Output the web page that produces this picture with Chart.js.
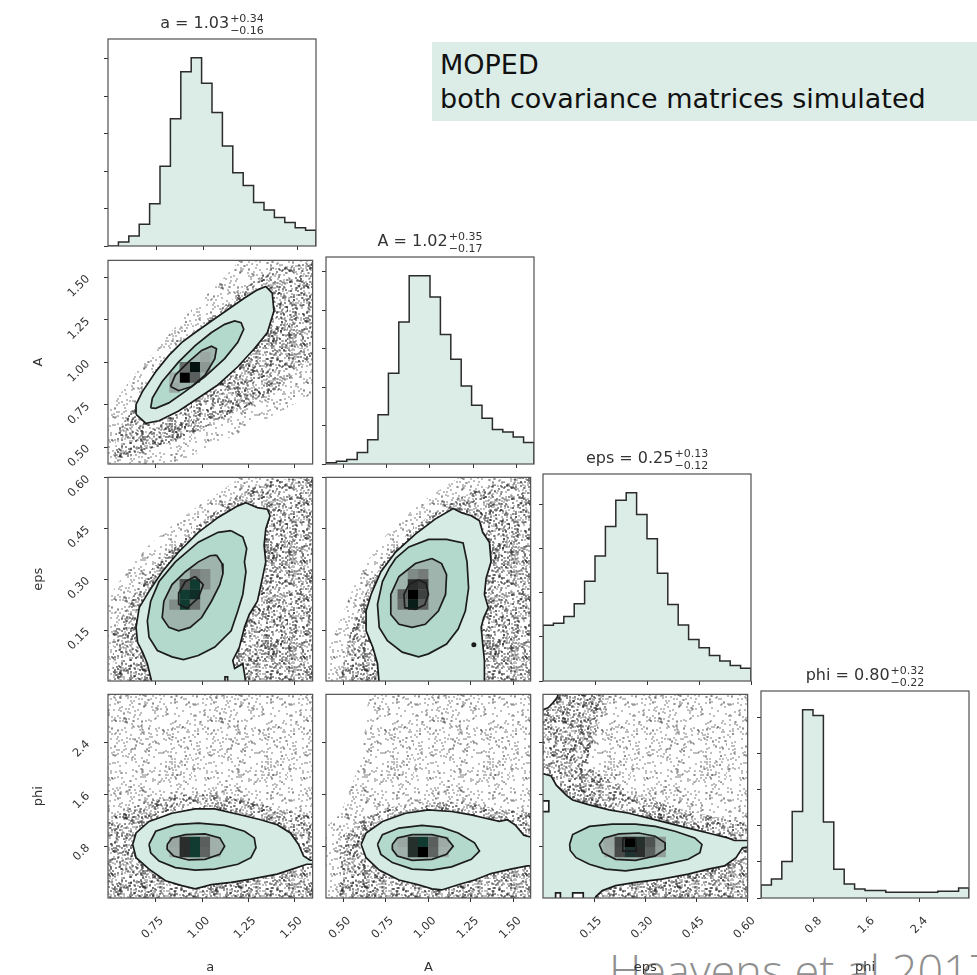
<!DOCTYPE html>
<html>
<head>
<meta charset="utf-8">
<script src="https://cdn.jsdelivr.net/npm/chart.js@4.4.1/dist/chart.umd.min.js"></script>
<style>
  html, body { margin: 0; background: #fff; }
  #fig { position: relative; width: 977px; height: 975px; overflow: hidden; }
  #fig canvas { position: absolute; }
  #credit {
    position: absolute; left: 609px; top: 947px; white-space: nowrap;
    font: 300 45px/45px "Open Sans", sans-serif; color: #8f8f8f;
  }
  #note {
    position: absolute; left: 432px; top: 42px; width: 545px; height: 79px;
    box-sizing: border-box; padding: 6px 0 0 8px; background: #dcede8;
    font: 27px/34px "DejaVu Sans", sans-serif; color: #111; white-space: nowrap;
  }
</style>
</head>
<body>
<div id="fig">
  <div id="credit">Heavens et al 2017</div>
  <div id="note">MOPED<br>both covariance matrices simulated</div>
</div>
<script>
// parameters, quoted medians and 68% errors
const params = ['a', 'A', 'eps', 'phi'];
const medians = ['1.03', '1.02', '0.25', '0.80'];
const errUp = ['0.34', '0.35', '0.13', '0.32'];
const errDown = ['0.16', '0.17', '0.12', '0.22'];
const ranges = [[0.4926, 1.597], [0.40, 1.60], [0.0, 0.60], [0.0, 3.1416]];
const tickVals = [[0.75, 1.00, 1.25, 1.50], [0.50, 0.75, 1.00, 1.25, 1.50], [0.15, 0.30, 0.45, 0.60], [0.8, 1.6, 2.4]];
const tickDigits = [2, 2, 2, 1];
const histTicks = [0, 1, 2, 3, 4, 5];

// marginal histograms, 20 bins each
const hist_a = [0, 0.11, 0.27, 0.58, 1.13, 2.13, 3.40, 4.66, 5.03, 4.35, 3.57, 2.67, 1.96, 1.62, 1.16, 0.96, 0.76, 0.63, 0.49, 0.42];
const hist_A = [0.03, 0.07, 0.12, 0.30, 0.63, 1.28, 2.36, 3.70, 4.90, 4.90, 4.35, 3.37, 2.73, 2.03, 1.53, 1.19, 0.90, 0.83, 0.70, 0.56];
const hist_eps = [1.26, 1.31, 1.46, 1.75, 2.26, 2.83, 3.50, 4.09, 4.26, 3.77, 3.22, 2.44, 1.73, 1.27, 0.94, 0.75, 0.58, 0.45, 0.35, 0.29];
const hist_phi = [0.36, 0.53, 1.01, 2.40, 5.22, 5.06, 2.11, 0.80, 0.39, 0.25, 0.21, 0.21, 0.16, 0.16, 0.16, 0.16, 0.16, 0.19, 0.19, 0.28];

// a vs A
const aA_cloud1 = [[0.48, 0.38], [0.48, 0.731], [0.555, 0.809], [0.661, 0.963], [0.768, 1.098], [0.891, 1.252], [1.016, 1.388], [1.122, 1.503], [1.211, 1.61], [1.61, 1.61], [1.61, 0.82], [1.477, 0.74], [1.335, 0.66], [1.193, 0.58], [1.051, 0.50], [0.910, 0.43], [0.803, 0.38]];
const aA_cloud2 = [[0.528, 0.442], [0.537, 0.597], [0.626, 0.712], [0.732, 0.886], [0.856, 1.06], [0.998, 1.214], [1.14, 1.349], [1.264, 1.465], [1.388, 1.561], [1.61, 1.582], [1.61, 1.06], [1.513, 0.944], [1.388, 0.828], [1.264, 0.751], [1.122, 0.674], [0.98, 0.597], [0.838, 0.529], [0.697, 0.481], [0.59, 0.433]];
const aA_c1 = [[0.644, 0.693], [0.697, 0.639], [0.768, 0.655], [0.874, 0.712], [0.980, 0.789], [1.087, 0.867], [1.193, 0.973], [1.282, 1.079], [1.353, 1.175], [1.388, 1.301], [1.379, 1.407], [1.344, 1.446], [1.299, 1.426], [1.229, 1.378], [1.140, 1.310], [1.051, 1.243], [0.963, 1.175], [0.891, 1.117], [0.821, 1.040], [0.750, 0.944], [0.679, 0.828], [0.644, 0.751]];
const aA_c2 = [[0.723, 0.731], [0.750, 0.728], [0.821, 0.760], [0.910, 0.828], [1.016, 0.915], [1.122, 1.021], [1.193, 1.117], [1.225, 1.194], [1.211, 1.233], [1.176, 1.243], [1.122, 1.223], [1.051, 1.175], [0.963, 1.098], [0.874, 1.002], [0.785, 0.886], [0.732, 0.789]];
const aA_c3 = [[0.830, 0.857], [0.874, 0.832], [0.945, 0.857], [1.016, 0.924], [1.069, 1.021], [1.078, 1.079], [1.051, 1.094], [0.998, 1.069], [0.927, 1.002], [0.856, 0.924]];
const aA_cells = [[0.907, 0.91, 1.0], [0.962, 0.97, 0.97], [0.907, 0.97, 0.55], [0.962, 0.91, 0.6], [0.851, 0.85, 0.35], [1.017, 1.03, 0.35], [0.851, 0.91, 0.3], [1.017, 0.97, 0.4]];

// a vs eps
const aEps_cloud1 = [[0.48, -0.02], [0.48, 0.235], [0.590, 0.322], [0.714, 0.400], [0.838, 0.458], [0.980, 0.516], [1.087, 0.554], [1.176, 0.588], [1.229, 0.61], [1.61, 0.61], [1.61, -0.02]];
const aEps_cloud2 = [[0.519, -0.02], [0.519, 0.138], [0.608, 0.235], [0.732, 0.332], [0.874, 0.409], [1.016, 0.477], [1.157, 0.535], [1.264, 0.569], [1.388, 0.593], [1.61, 0.598], [1.61, -0.02]];
const aEps_c1 = [[0.732, -0.01], [0.705, 0.051], [0.679, 0.085], [0.652, 0.114], [0.644, 0.158], [0.661, 0.216], [0.714, 0.264], [0.785, 0.322], [0.874, 0.380], [0.980, 0.438], [1.087, 0.482], [1.193, 0.516], [1.237, 0.525], [1.299, 0.511], [1.353, 0.506], [1.367, 0.487], [1.344, 0.448], [1.335, 0.400], [1.344, 0.351], [1.326, 0.303], [1.299, 0.235], [1.255, 0.196], [1.229, 0.158], [1.202, 0.100], [1.166, 0.061], [1.176, 0.037], [1.220, 0.051], [1.229, 0.022], [1.237, -0.01]];
const aEps_c2 = [[1.157, 0.443], [1.220, 0.424], [1.241, 0.390], [1.229, 0.351], [1.237, 0.322], [1.220, 0.255], [1.193, 0.206], [1.157, 0.148], [1.069, 0.100], [0.980, 0.075], [0.900, 0.063], [0.838, 0.071], [0.759, 0.090], [0.714, 0.129], [0.705, 0.177], [0.723, 0.235], [0.768, 0.293], [0.856, 0.351], [0.980, 0.409], [1.087, 0.438]];
const aEps_c3 = [[1.078, 0.371], [1.108, 0.346], [1.113, 0.317], [1.096, 0.284], [1.051, 0.235], [0.998, 0.187], [0.936, 0.158], [0.874, 0.148], [0.821, 0.158], [0.785, 0.187], [0.794, 0.235], [0.838, 0.284], [0.910, 0.322], [0.980, 0.351], [1.043, 0.369]];
const aEps_c4 = [[0.963, 0.308], [1.007, 0.284], [0.980, 0.245], [0.918, 0.214], [0.874, 0.226], [0.874, 0.259], [0.910, 0.293]];
const aEps_hole = [[1.124, -0.01], [1.124, 0.012], [1.138, 0.012], [1.138, -0.01]];
const aEps_cells = [[0.907, 0.255, 0.9], [0.907, 0.225, 0.9], [0.962, 0.285, 0.9], [0.962, 0.255, 0.92], [0.907, 0.285, 0.65], [0.962, 0.225, 0.55], [1.017, 0.285, 0.45], [1.017, 0.315, 0.45], [0.851, 0.225, 0.45], [0.962, 0.315, 0.5]];

// A vs eps
const AEps_cloud1 = [[0.39, -0.02], [0.39, 0.061], [0.481, 0.177], [0.558, 0.274], [0.654, 0.361], [0.751, 0.429], [0.866, 0.487], [0.982, 0.535], [1.098, 0.574], [1.213, 0.61], [1.61, 0.61], [1.61, -0.02]];
const AEps_cloud2 = [[0.481, -0.02], [0.519, 0.100], [0.577, 0.196], [0.654, 0.284], [0.751, 0.361], [0.866, 0.429], [1.001, 0.487], [1.136, 0.530], [1.271, 0.559], [1.425, 0.583], [1.61, 0.61], [1.61, -0.02]];
const AEps_c1 = [[0.712, -0.01], [0.702, 0.051], [0.674, 0.100], [0.635, 0.148], [0.635, 0.206], [0.664, 0.255], [0.722, 0.322], [0.808, 0.380], [0.924, 0.433], [1.040, 0.477], [1.146, 0.508], [1.194, 0.496], [1.252, 0.487], [1.300, 0.472], [1.319, 0.438], [1.358, 0.409], [1.368, 0.351], [1.339, 0.303], [1.329, 0.255], [1.352, 0.216], [1.325, 0.187], [1.310, 0.158], [1.319, 0.109], [1.329, 0.061], [1.329, -0.01]];
const AEps_c2 = [[0.808, 0.361], [0.886, 0.395], [1.001, 0.417], [1.107, 0.417], [1.204, 0.407], [1.227, 0.351], [1.236, 0.274], [1.217, 0.206], [1.175, 0.153], [1.107, 0.109], [1.001, 0.080], [0.943, 0.071], [0.847, 0.085], [0.760, 0.119], [0.712, 0.158], [0.702, 0.226], [0.731, 0.293], [0.770, 0.332]];
const AEps_c3 = [[1.021, 0.361], [1.078, 0.346], [1.107, 0.313], [1.101, 0.255], [1.059, 0.206], [0.982, 0.167], [0.905, 0.158], [0.828, 0.167], [0.780, 0.196], [0.780, 0.255], [0.828, 0.308], [0.924, 0.346]];
const AEps_c4 = [[0.943, 0.298], [0.986, 0.288], [1.001, 0.255], [0.978, 0.224], [0.924, 0.211], [0.862, 0.216], [0.857, 0.255], [0.886, 0.284]];
const AEps_dot = [[1.267, 0.107]];
const AEps_cells = [[0.91, 0.255, 1.0], [0.91, 0.225, 0.95], [0.85, 0.255, 0.6], [0.85, 0.225, 0.55], [0.91, 0.285, 0.8], [0.97, 0.285, 0.75], [0.97, 0.255, 0.72], [0.97, 0.225, 0.6], [0.97, 0.315, 0.5], [0.91, 0.315, 0.45]];

// a vs phi
const aPhi_cloud1 = [[0.48, -0.05], [0.48, 3.2], [1.61, 3.2], [1.61, -0.05]];
const aPhi_cloud2 = [[0.48, -0.05], [0.48, 1.181], [0.626, 1.410], [0.803, 1.562], [0.980, 1.613], [1.157, 1.562], [1.335, 1.436], [1.512, 1.308], [1.61, 1.257], [1.61, -0.05]];
const aPhi_c1 = [[0.626, 0.826], [0.644, 1.003], [0.714, 1.181], [0.838, 1.308], [0.963, 1.375], [1.069, 1.375], [1.193, 1.292], [1.317, 1.207], [1.406, 1.131], [1.477, 1.003], [1.521, 0.826], [1.548, 0.648], [1.583, 0.582], [1.62, 0.582], [1.62, 0.521], [1.565, 0.521], [1.512, 0.469], [1.406, 0.369], [1.264, 0.292], [1.157, 0.241], [1.051, 0.205], [0.963, 0.140], [0.891, 0.190], [0.803, 0.266], [0.714, 0.445], [0.644, 0.622]];
const aPhi_c2 = [[0.714, 0.826], [0.750, 1.029], [0.856, 1.131], [0.980, 1.155], [1.122, 1.120], [1.229, 1.029], [1.282, 0.927], [1.291, 0.775], [1.264, 0.622], [1.193, 0.521], [1.069, 0.445], [0.963, 0.430], [0.856, 0.469], [0.768, 0.571], [0.723, 0.698]];
const aPhi_c3 = [[0.812, 0.826], [0.838, 0.927], [0.910, 0.978], [1.016, 0.988], [1.096, 0.927], [1.122, 0.800], [1.096, 0.673], [1.016, 0.597], [0.927, 0.587], [0.847, 0.648], [0.812, 0.750]];
const aPhi_cells = [[0.851, 0.864, 0.35], [0.851, 0.707, 0.33], [0.907, 0.864, 0.8], [0.907, 0.707, 0.8], [0.962, 0.864, 0.9], [0.962, 0.707, 0.9], [1.017, 0.864, 0.6], [1.017, 0.707, 0.58], [1.072, 0.864, 0.3], [1.072, 0.707, 0.3]];

// A vs phi
const APhi_cloud1 = [[0.39, -0.05], [0.39, 1.079], [0.481, 1.283], [0.558, 1.791], [0.616, 2.298], [0.654, 3.2], [1.61, 3.2], [1.61, -0.05]];
const APhi_cloud2 = [[0.481, -0.05], [0.481, 0.927], [0.596, 1.181], [0.751, 1.384], [0.943, 1.486], [1.136, 1.486], [1.329, 1.410], [1.522, 1.334], [1.61, 1.308], [1.61, -0.05]];
const APhi_c1 = [[0.606, 0.826], [0.635, 1.003], [0.731, 1.181], [0.866, 1.308], [1.001, 1.359], [1.136, 1.334], [1.252, 1.283], [1.348, 1.222], [1.416, 1.181], [1.464, 1.207], [1.512, 1.120], [1.560, 0.968], [1.62, 0.927], [1.62, 0.495], [1.580, 0.495], [1.483, 0.445], [1.368, 0.378], [1.271, 0.277], [1.175, 0.205], [1.078, 0.124], [1.021, 0.140], [0.943, 0.205], [0.828, 0.277], [0.712, 0.430], [0.635, 0.622]];
const APhi_c2 = [[0.702, 0.826], [0.731, 0.978], [0.828, 1.079], [0.963, 1.120], [1.078, 1.090], [1.175, 1.003], [1.271, 0.851], [1.300, 0.724], [1.252, 0.597], [1.136, 0.480], [1.021, 0.430], [0.905, 0.445], [0.789, 0.546], [0.722, 0.673]];
const APhi_c3 = [[0.789, 0.826], [0.818, 0.927], [0.905, 0.978], [1.021, 0.978], [1.107, 0.927], [1.146, 0.800], [1.107, 0.673], [1.021, 0.597], [0.905, 0.582], [0.818, 0.648], [0.789, 0.750]];
const APhi_cells = [[0.85, 0.864, 0.35], [0.85, 0.707, 0.3], [0.91, 0.864, 0.82], [0.91, 0.707, 0.82], [0.97, 0.864, 0.9], [0.97, 0.707, 1.0], [1.03, 0.864, 0.6], [1.03, 0.707, 0.58], [1.09, 0.864, 0.33], [1.09, 0.707, 0.3]];

// eps vs phi
const epsPhi_cloud1 = [[-0.01, -0.05], [-0.01, 3.2], [0.62, 3.2], [0.62, -0.05]];
const epsPhi_cloud2 = [[-0.01, 3.2], [0.203, 3.2], [0.155, 2.553], [0.126, 2.045], [0.252, 1.638], [0.397, 1.384], [0.542, 1.207], [0.62, 1.155], [0.62, -0.05], [-0.01, -0.05]];
const epsPhi_c1 = [[-0.01, 1.933], [0.024, 1.882], [0.039, 1.740], [0.068, 1.588], [0.087, 1.512], [0.136, 1.436], [0.194, 1.359], [0.252, 1.308], [0.310, 1.232], [0.368, 1.155], [0.426, 1.079], [0.484, 1.003], [0.542, 0.927], [0.561, 0.887], [0.62, 0.887], [0.62, 0.800], [0.585, 0.775], [0.566, 0.622], [0.532, 0.495], [0.484, 0.445], [0.426, 0.369], [0.348, 0.292], [0.271, 0.241], [0.213, 0.190], [0.174, 0.114], [0.155, 0.023], [0.150, -0.05], [-0.01, -0.05]];
const epsPhi_c2 = [[0.078, 0.826], [0.087, 0.978], [0.136, 1.105], [0.203, 1.140], [0.271, 1.140], [0.329, 1.105], [0.387, 1.029], [0.445, 0.927], [0.466, 0.826], [0.460, 0.698], [0.426, 0.597], [0.368, 0.530], [0.310, 0.469], [0.242, 0.419], [0.184, 0.445], [0.136, 0.521], [0.097, 0.622], [0.080, 0.734]];
const epsPhi_c3 = [[0.165, 0.826], [0.179, 0.927], [0.223, 0.988], [0.281, 1.003], [0.329, 0.952], [0.358, 0.851], [0.358, 0.750], [0.329, 0.648], [0.271, 0.582], [0.213, 0.597], [0.175, 0.698]];
const epsPhi_c4 = [[0.234, 0.927], [0.271, 0.927], [0.274, 0.724], [0.234, 0.724]];
const epsPhi_hole1 = [[0.037, -0.05], [0.037, 0.079], [0.051, 0.079], [0.051, -0.05]];
const epsPhi_hole2 = [[0.087, -0.05], [0.087, 0.079], [0.118, 0.079], [0.118, -0.05]];
const epsPhi_notch = [[-0.01, 1.497], [0.017, 1.497], [0.017, 1.334], [-0.01, 1.334]];
const epsPhi_corner = [[-0.01, 2.884], [0.015, 2.934], [0.029, 3.010], [0.041, 3.087], [0.048, 3.2], [-0.01, 3.2]];
const epsPhi_cells = [[0.195, 0.864, 0.35], [0.195, 0.707, 0.33], [0.225, 0.864, 0.7], [0.225, 0.707, 0.68], [0.255, 0.864, 1.0], [0.255, 0.707, 0.85], [0.285, 0.864, 0.82], [0.285, 0.707, 0.8], [0.315, 0.864, 0.65], [0.315, 0.707, 0.6], [0.345, 0.864, 0.4], [0.345, 0.707, 0.38]];

// ---- drawing ----
const panelX = [108, 326, 543, 761];
const panelY = [39, 257, 474, 691];
const PW = 208, PH = 207;
const INK = '#333333';
const FRAME = '#505050';
const LINE = '#1c1c1c';
const MINT = '#dcede8';
const levelFills = ['#d5ebe4', '#b3d8cc', '#a0b4ae'];
const densityStops = [[0, [200, 228, 219]], [0.35, [154, 167, 163]], [0.6, [90, 94, 92]], [0.8, [42, 45, 44]], [0.9, [17, 58, 49]], [1, [0, 0, 0]]];

Chart.defaults.font.family = 'DejaVu Sans';
Chart.defaults.color = INK;
const fig = document.getElementById('fig');

function shade(d) {
  for (let i = 1; i < densityStops.length; i++) {
    const [p1, c1] = densityStops[i];
    const [p0, c0] = densityStops[i - 1];
    if (d <= p1) {
      const t = (d - p0) / (p1 - p0);
      return 'rgb(' + c0.map((c, k) => Math.round(c + (c1[k] - c) * t)).join(',') + ')';
    }
  }
  return 'rgb(0,0,0)';
}

// integer hash -> [0,1), used only as a grain texture for the sample cloud
function grain(n) {
  let t = Math.imul(n + 1, 0x6D2B79F5) | 0;
  t = Math.imul(t ^ (t >>> 15), t | 1);
  t ^= t + Math.imul(t ^ (t >>> 7), t | 61);
  return ((t ^ (t >>> 14)) >>> 0) / 4294967296;
}
function stipple(ctx, count) {
  const size = 96;
  const tile = document.createElement('canvas');
  tile.width = tile.height = size;
  const g = tile.getContext('2d');
  g.fillStyle = 'rgba(40,40,40,0.3)';
  for (let i = 0; i < count; i++) {
    g.fillRect(Math.floor(grain(2 * i) * size), Math.floor(grain(2 * i + 1) * size), 2, 2);
  }
  return ctx.createPattern(tile, 'repeat');
}

const pts = arr => arr.map(p => ({ x: p[0], y: p[1] }));
const closed = arr => pts(arr.concat([arr[0]]));

const framePlugin = {
  id: 'panelFrame',
  afterDraw(chart) {
    const { ctx, chartArea: a } = chart;
    ctx.save();
    ctx.strokeStyle = FRAME;
    ctx.lineWidth = 1.2;
    ctx.strokeRect(a.left, a.top, a.right - a.left, a.bottom - a.top);
    ctx.restore();
  }
};

function titlePlugin(i) {
  return {
    id: 'paramTitle',
    afterDraw(chart) {
      const { ctx, chartArea: { left, right, top } } = chart;
      const main = params[i] + ' = ' + medians[i];
      const up = '+' + errUp[i];
      const down = '\u2212' + errDown[i];
      ctx.save();
      ctx.fillStyle = INK;
      ctx.font = '16px "DejaVu Sans"';
      const mw = ctx.measureText(main).width;
      ctx.font = '11px "DejaVu Sans"';
      const sw = Math.max(ctx.measureText(up).width, ctx.measureText(down).width);
      const x = (left + right) / 2 - (mw + sw + 1) / 2;
      ctx.font = '16px "DejaVu Sans"';
      ctx.fillText(main, x, top - 11);
      ctx.font = '11px "DejaVu Sans"';
      ctx.fillText(up, x + mw + 1, top - 17);
      ctx.fillText(down, x + mw + 1, top - 5);
      ctx.restore();
    }
  };
}

function makeCanvas(row, col) {
  const pad = {
    l: col === 0 ? panelX[0] : 8,
    r: 4,
    t: row === col ? 34 : 4,
    b: row === 3 ? 975 - panelY[3] - PH : 8
  };
  const cv = document.createElement('canvas');
  cv.width = pad.l + PW + pad.r;
  cv.height = pad.t + PH + pad.b;
  cv.style.left = (panelX[col] - pad.l) + 'px';
  cv.style.top = (panelY[row] - pad.t) + 'px';
  fig.appendChild(cv);
  return { cv, pad };
}

function drawPanel(row, col, cv, pad, datasets, yRange, yTicks, extra) {
  const isHist = row === col;
  return new Chart(cv, {
    type: 'scatter',
    data: { datasets },
    options: {
      responsive: false,
      animation: false,
      events: [],
      layout: { padding: { left: 0, right: pad.r, top: pad.t, bottom: 0 } },
      plugins: { legend: { display: false }, tooltip: { enabled: false } },
      scales: {
        x: {
          type: 'linear', position: 'bottom',
          min: ranges[col][0], max: ranges[col][1],
          afterBuildTicks: s => { s.ticks = tickVals[col].map(v => ({ value: v })); },
          afterFit: s => { s.height = pad.b; s.paddingLeft = 0; s.paddingRight = 0; },
          ticks: {
            display: row === 3, minRotation: 45, maxRotation: 45, padding: 12, labelOffset: 6,
            color: INK, font: { size: 11.5 },
            callback: v => Number(v).toFixed(tickDigits[col])
          },
          grid: { drawOnChartArea: false, tickLength: 4, tickColor: INK },
          border: { display: false },
          title: { display: row === 3, text: params[col], color: INK, font: { size: 13 }, padding: 0 }
        },
        y: {
          type: 'linear', position: 'left',
          min: yRange[0], max: yRange[1],
          afterBuildTicks: s => { s.ticks = yTicks.filter(v => v <= yRange[1] + 1e-9).map(v => ({ value: v })); },
          afterFit: s => { s.width = pad.l; s.paddingTop = 0; s.paddingBottom = 0; },
          ticks: {
            display: col === 0 && !isHist, minRotation: 45, maxRotation: 45, padding: 16,
            color: INK, font: { size: 11.5 },
            callback: v => Number(v).toFixed(tickDigits[row])
          },
          grid: { drawOnChartArea: false, tickLength: 4, tickColor: INK },
          border: { display: false },
          title: { display: col === 0 && row > 0, text: params[row], color: INK, font: { size: 13 }, padding: { top: 31, bottom: 0 } }
        }
      }
    },
    plugins: [framePlugin].concat(extra || [])
  });
}

// diagonal: marginal histograms
const hists = [hist_a, hist_A, hist_eps, hist_phi];
hists.forEach((h, i) => {
  const [lo, hi] = ranges[i];
  const w = (hi - lo) / h.length;
  const steps = [{ x: lo, y: 0 }];
  h.forEach((v, k) => steps.push({ x: lo + k * w, y: v }));
  steps.push({ x: hi, y: h[h.length - 1] }, { x: hi, y: 0 });
  const { cv, pad } = makeCanvas(i, i);
  drawPanel(i, i, cv, pad, [{
    data: steps, showLine: true, stepped: true, fill: 'origin',
    backgroundColor: MINT, borderColor: '#2b2b2b', borderWidth: 1.5, pointRadius: 0
  }], [0, Math.max(...h) * 1.1], histTicks, [titlePlugin(i)]);
});

// lower triangle: 2-d densities
const pairs = [
  { row: 1, col: 0, cloud: [aA_cloud1, aA_cloud2], levels: [aA_c1, aA_c2, aA_c3], cells: aA_cells, holes: [], dots: [] },
  { row: 2, col: 0, cloud: [aEps_cloud1, aEps_cloud2], levels: [aEps_c1, aEps_c2, aEps_c3, aEps_c4], cells: aEps_cells, holes: [aEps_hole], dots: [] },
  { row: 2, col: 1, cloud: [AEps_cloud1, AEps_cloud2], levels: [AEps_c1, AEps_c2, AEps_c3, AEps_c4], cells: AEps_cells, holes: [], dots: AEps_dot },
  { row: 3, col: 0, cloud: [aPhi_cloud1, aPhi_cloud2], levels: [aPhi_c1, aPhi_c2, aPhi_c3], cells: aPhi_cells, holes: [], dots: [] },
  { row: 3, col: 1, cloud: [APhi_cloud1, APhi_cloud2], levels: [APhi_c1, APhi_c2, APhi_c3], cells: APhi_cells, holes: [], dots: [] },
  { row: 3, col: 2, cloud: [epsPhi_cloud1, epsPhi_cloud2], levels: [epsPhi_c1, epsPhi_c2, epsPhi_c3, epsPhi_c4], cells: epsPhi_cells, holes: [epsPhi_hole1, epsPhi_hole2, epsPhi_notch, epsPhi_corner], dots: [] }
];

pairs.forEach(p => {
  const { cv, pad } = makeCanvas(p.row, p.col);
  const ctx = cv.getContext('2d');
  const ds = [];
  const density = [560, 1800];
  p.cloud.forEach((c, k) => ds.push({
    data: closed(c), showLine: true, fill: 'shape', backgroundColor: stipple(ctx, density[k]),
    borderWidth: 0, borderColor: 'transparent', pointRadius: 0, order: 100 - k
  }));
  p.levels.forEach((c, k) => {
    if (k < levelFills.length) ds.push({
      data: closed(c), showLine: true, fill: 'shape', backgroundColor: levelFills[k],
      borderWidth: 0, borderColor: 'transparent', pointRadius: 0, order: 90 - k
    });
    ds.push({
      data: closed(c), showLine: true, fill: false, borderColor: LINE, borderWidth: 1.7,
      pointRadius: 0, order: 70 - k
    });
  });
  ds.push({
    data: pts(p.cells), showLine: false, pointStyle: 'rect', pointRadius: 7.35,
    backgroundColor: p.cells.map(c => shade(c[2])), borderWidth: 0, order: 80
  });
  p.holes.forEach(c => ds.push({
    data: closed(c), showLine: true, fill: 'shape', backgroundColor: '#ffffff',
    borderColor: LINE, borderWidth: 1.7, pointRadius: 0, order: 60
  }));
  if (p.dots.length) ds.push({
    data: pts(p.dots), showLine: false, pointRadius: 2.5, backgroundColor: LINE,
    borderWidth: 0, order: 50
  });
  drawPanel(p.row, p.col, cv, pad, ds, ranges[p.row], tickVals[p.row]);
});
</script>
</body>
</html>
